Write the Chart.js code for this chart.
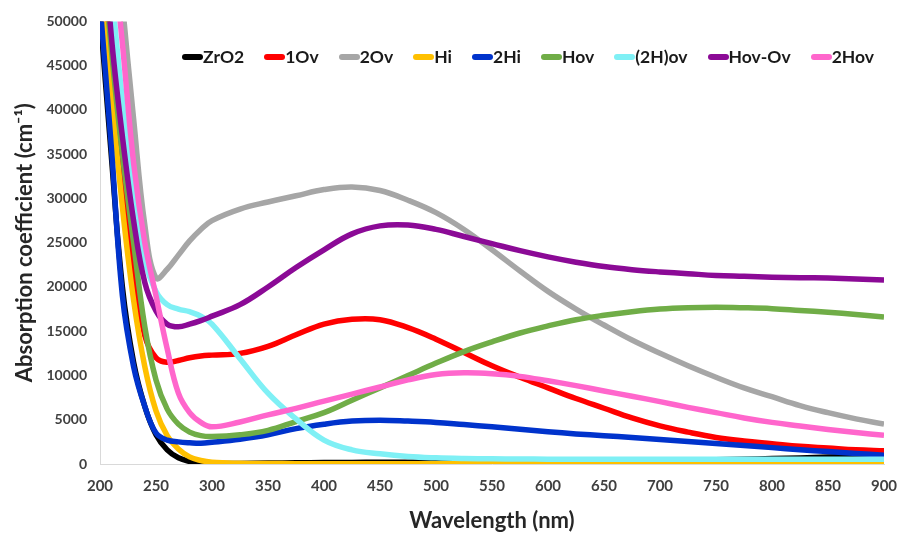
<!DOCTYPE html>
<html>
<head>
<meta charset="utf-8">
<script src="https://cdn.jsdelivr.net/npm/chart.js@4.4.1/dist/chart.umd.min.js"></script>
<style>
  body { margin: 0; background: #fff; }
  #wrap { position: relative; width: 904px; height: 538px; }
  #legend {
    position: absolute; left: 182px; top: 47px;
    display: flex; gap: 20px; align-items: center;
    font-family: Lato, "Liberation Sans", sans-serif; font-weight: bold; font-size: 17.5px;
    color: #1a1a1a; line-height: 20px;
  }
  .item { display: flex; align-items: center; }
  .swatch { width: 21px; height: 6px; border-radius: 3px; display: inline-block; }
</style>
</head>
<body>
<div id="wrap">
  <canvas id="chart" width="904" height="538"></canvas>
  <div id="legend"></div>
</div>
<script>
// wavelength grid (nm)
const wavelength = [200, 210, 220, 230, 240, 250, 260, 270, 280, 290, 300,
  325, 350, 375, 400, 425, 450, 475, 500, 525, 550, 575, 600, 625, 650,
  675, 700, 725, 750, 775, 800, 825, 850, 875, 900];

// absorption coefficient (cm-1)
const zro2 = [51000, 35000, 20000, 11500, 6500, 3300, 1600, 700, 300, 120, 60,
  60, 100, 130, 160, 180, 200, 210, 220, 230, 240, 250, 260, 280, 300,
  330, 370, 420, 480, 540, 610, 690, 780, 880, 1000];
const ov1 = [60000, 45000, 32000, 22000, 14500, 12000, 11500, 11700, 12000, 12200, 12300,
  12500, 13300, 14600, 15800, 16350, 16300, 15400, 14100, 12600, 11100, 9800, 8600, 7400, 6300,
  5200, 4300, 3600, 3000, 2600, 2300, 2000, 1800, 1600, 1500];
const ov2 = [80000, 66000, 52000, 39000, 27000, 21000, 22000, 23600, 25200, 26500, 27500,
  28800, 29600, 30300, 31000, 31300, 30900, 29800, 28400, 26500, 24200, 21800, 19500, 17500, 15700,
  14000, 12500, 11100, 9800, 8600, 7600, 6600, 5800, 5100, 4500];
const hi = [58000, 42000, 29000, 18500, 11000, 6000, 3200, 1700, 800, 400, 200,
  80, 50, 40, 40, 40, 40, 40, 40, 40, 40, 40, 40, 40, 40,
  40, 40, 40, 40, 40, 40, 40, 40, 40, 40];
const hi2 = [52000, 36000, 19000, 11000, 6500, 3500, 2700, 2500, 2400, 2350, 2450,
  2800, 3300, 4000, 4500, 4850, 4950, 4850, 4700, 4450, 4200, 3920, 3650, 3400, 3200,
  3000, 2780, 2550, 2320, 2080, 1850, 1620, 1400, 1190, 1000];
const hov = [62000, 47000, 35000, 25000, 15500, 9500, 6200, 4500, 3600, 3200, 3100,
  3300, 3800, 4800, 5800, 7200, 8600, 10000, 11400, 12700, 13800, 14800, 15600, 16300, 16800,
  17200, 17500, 17650, 17700, 17650, 17550, 17350, 17150, 16900, 16600];
const h2ov = [68000, 54000, 41000, 30000, 23000, 19500, 18000, 17500, 17200, 16700, 15800,
  11900, 8000, 5100, 2700, 1600, 1150, 850, 700, 620, 580, 560, 550, 550, 550,
  550, 550, 550, 550, 550, 550, 550, 550, 550, 550];
const hovOv = [65000, 48500, 37000, 27500, 20500, 17300, 15800, 15500, 15800, 16200, 16700,
  18000, 20000, 22200, 24200, 26000, 26900, 27000, 26500, 25700, 24900, 24100, 23400, 22800, 22300,
  21950, 21700, 21500, 21300, 21200, 21100, 21050, 21000, 20900, 20800];
const hov2 = [76000, 60000, 47500, 34000, 25000, 19000, 13000, 8000, 5800, 4700, 4200,
  4750, 5550, 6280, 7100, 7900, 8700, 9500, 10100, 10300, 10200, 9900, 9400, 8850, 8250,
  7650, 7050, 6400, 5800, 5200, 4700, 4300, 3900, 3550, 3250];

const seriesNames = ['ZrO2', '1Ov', '2Ov', 'Hi', '2Hi', 'Hov', '(2H)ov', 'Hov-Ov', '2Hov'];
const seriesValues = [zro2, ov1, ov2, hi, hi2, hov, h2ov, hovOv, hov2];
const seriesColors = ['#000000', '#ff0000', '#a6a6a6', '#ffc000', '#0033cc',
  '#70ad47', '#7ff0f5', '#8b0a96', '#ff66cc'];

const xTicks = [200, 250, 300, 350, 400, 450, 500, 550, 600, 650, 700, 750, 800, 850, 900];

const FONT = 'Lato, "Liberation Sans", sans-serif';

const datasets = seriesNames.map((name, i) => ({
  label: name,
  data: wavelength.map((w, j) => ({ x: w, y: seriesValues[i][j] })),
  borderColor: seriesColors[i],
  backgroundColor: seriesColors[i],
  borderWidth: 5.5,
  pointRadius: 0,
  fill: false,
  tension: 0.4,
  clip: 0,
  order: seriesNames.length - i  // later series on top, like the original
}));

new Chart(document.getElementById('chart').getContext('2d'), {
  type: 'line',
  data: { datasets },
  options: {
    responsive: false,
    animation: false,
    devicePixelRatio: 1,
    layout: { padding: { top: 17, right: 20, left: 0, bottom: 0 } },
    plugins: {
      legend: { display: false },
      tooltip: { enabled: false }
    },
    scales: {
      x: {
        type: 'linear',
        min: 200,
        max: 900,
        afterBuildTicks: (scale) => { scale.ticks = xTicks.map(v => ({ value: v })); },
        afterFit: (scale) => { scale.height = 74; scale.paddingLeft = 0; scale.paddingRight = 0; },
        grid: { display: false, drawTicks: false },
        border: { display: true, color: '#d9d9d9', width: 1 },
        ticks: { font: { family: FONT, size: 15, weight: 'bold' }, color: '#404040', padding: 13, maxRotation: 0,
          callback: (v) => String(v) },
        title: { display: true, text: 'Wavelength (nm)', color: '#262626',
          font: { family: FONT, size: 22, weight: 'bold' }, padding: { top: 4, bottom: 4 } }
      },
      y: {
        min: 0,
        max: 50000,
        ticks: { stepSize: 5000, font: { family: FONT, size: 14, weight: 'bold' }, color: '#404040', padding: 13,
          callback: (v) => String(v) },
        afterFit: (scale) => { scale.width = 100; },
        grid: { display: false, drawTicks: false },
        border: { display: true, color: '#d9d9d9', width: 1 },
        title: { display: true, text: 'Absorption coefficient (cm\u207B\u00B9)', color: '#262626',
          font: { family: FONT, size: 22, weight: 'bold' }, padding: { top: 12, bottom: 4 } }
      }
    }
  }
});

// legend sits inside the plot, as in the original
const legend = document.getElementById('legend');
seriesNames.forEach((name, i) => {
  const item = document.createElement('span');
  item.className = 'item';
  const sw = document.createElement('span');
  sw.className = 'swatch';
  sw.style.background = seriesColors[i];
  const txt = document.createElement('span');
  txt.textContent = name;
  item.appendChild(sw);
  item.appendChild(txt);
  legend.appendChild(item);
});
</script>
</body>
</html>
